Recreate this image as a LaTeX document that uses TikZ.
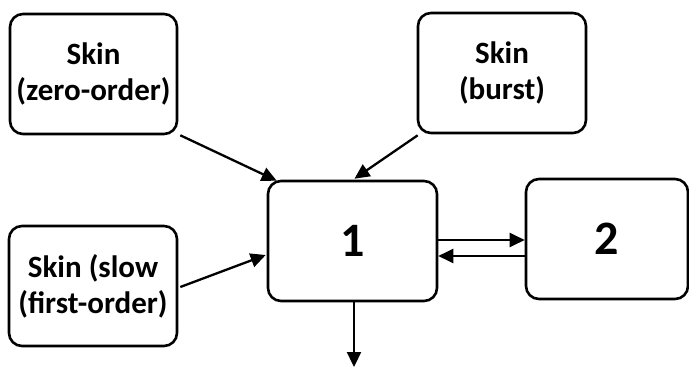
\documentclass[tikz,border=0pt]{standalone}
\usepackage{fontspec}
\setmainfont{Carlito}
\usetikzlibrary{arrows.meta,calc}
\begin{document}
\begin{tikzpicture}[x=1pt,y=-1pt,
  box/.style={draw,line width=2.6pt,rounded corners=13pt,minimum height=120pt,align=center,
    font=\fontsize{31}{36}\selectfont\bfseries,inner sep=0pt},
  numbox/.style={box,font=\fontsize{48}{52}\selectfont\bfseries},
  arr/.style={line width=2.3pt,-{Triangle[length=15pt,width=14pt]}}]
\useasboundingbox (0,0) rectangle (689,367);
\node[box,minimum width=167pt] (z) at (93.5,74) {Skin\\(zero-order)};
\node[box,minimum width=168pt] (b) at (502,73) {Skin\\(burst)};
\node[box,minimum width=168pt] (s) at (93,286) {Skin (slow\\(first-order)};
\node[numbox,minimum width=169pt] (n1) at (352.5,241) {1};
\node[numbox,minimum width=162pt] (n2) at (607,239) {2};
\coordinate (out) at (354,367);
\draw[arr] ($(z.south east)+(2,0)$) -- ($(n1.north west)+(10,1)$);
\draw[arr] ($(b.south west)+(1,1)$) -- ($(n1.north)+(2,-1)$);
\draw[arr] ($(s.east)+(2,1)$) -- ($(n1.west)+(-1,14)$);
\draw[arr] ($(n1.east)+(0,-1)$) -- ($(n2.west)+(0,1)$);
\draw[arr] ($(n2.west)+(0,17)$) -- ($(n1.east)+(0,15)$);
\draw[arr] ($(n1.south)+(1.5,0)$) -- (out);
\end{tikzpicture}
\end{document}
